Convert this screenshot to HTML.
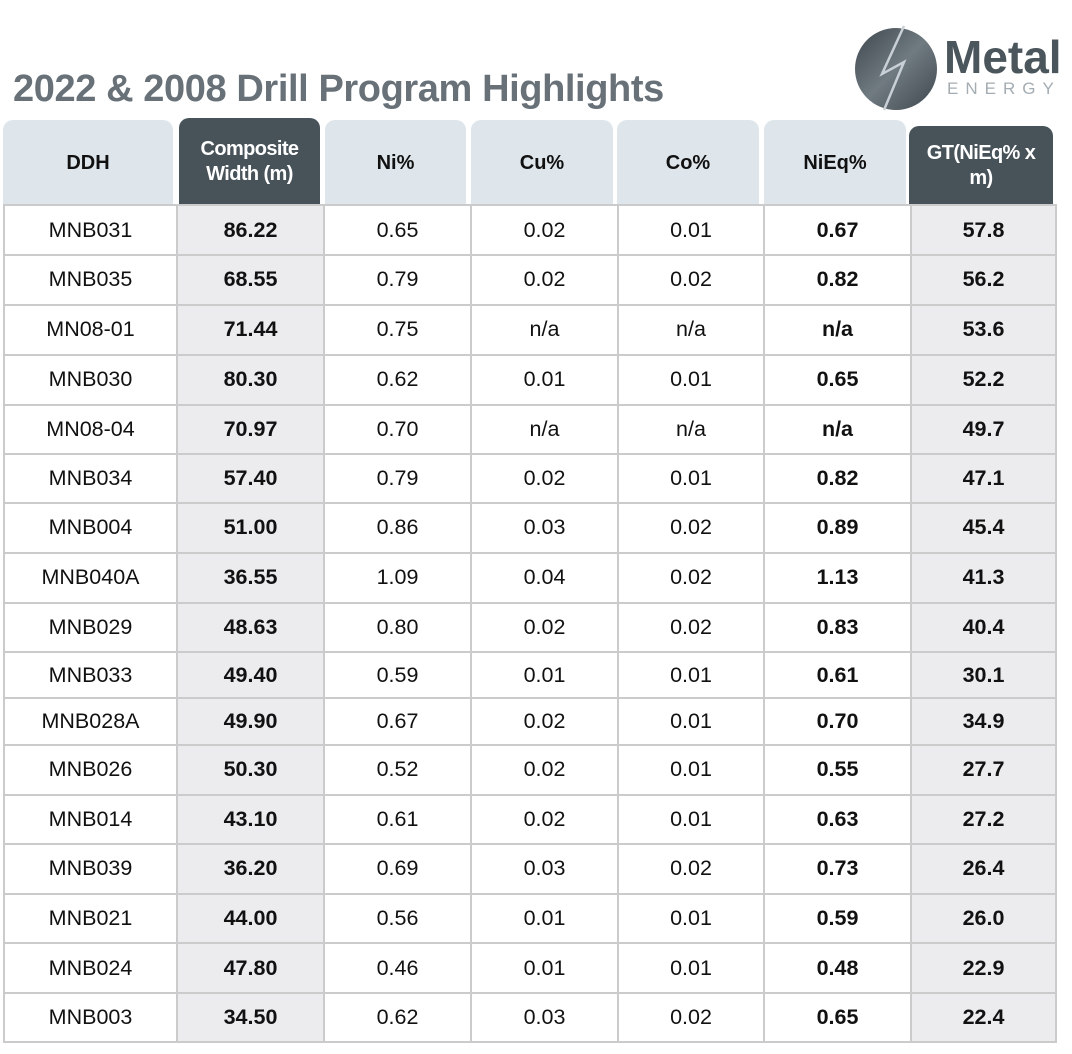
<!DOCTYPE html><html><head><style>
body{margin:0;width:1072px;height:1054px;background:#fff;position:relative;font-family:"Liberation Sans",Arial,sans-serif;overflow:hidden}
.title{position:absolute;left:13px;top:68px;font-size:38px;font-weight:bold;color:#687178;letter-spacing:-0.4px;white-space:nowrap}
.h{position:absolute;display:flex;align-items:center;justify-content:center;text-align:center;font-weight:bold;font-size:20px;border-radius:10px 10px 0 0;line-height:25px}
.l{background:#dee6eb;color:#111;top:120px;height:86px}
.d{background:#475259;color:#fff;font-size:20px;letter-spacing:-0.6px}
table{position:absolute;left:3px;top:204px;border-collapse:collapse;font-size:21.5px;table-layout:fixed}
td{border:2px solid #cbcbcb;text-align:center;padding:0;color:#111}
td:nth-child(2),td:nth-child(6),td:nth-child(7){font-weight:bold}
td:nth-child(2),td:nth-child(7){background:#ececee}
</style></head><body>
<div class="title">2022 &amp; 2008 Drill Program Highlights</div>
<svg style="position:absolute;left:854px;top:24px" width="218" height="90">
<defs><linearGradient id="g" x1="0" y1="0" x2="1" y2="1"><stop offset="0" stop-color="#3e474e"/><stop offset="0.5" stop-color="#707a81"/><stop offset="1" stop-color="#3e474e"/></linearGradient></defs>
<circle cx="42" cy="45" r="41" fill="url(#g)"/>
<polyline points="50,2 28,50 50,38 30,86" fill="none" stroke="#c9d0d5" stroke-width="2.5"/>
<text x="90" y="49" font-family="Liberation Sans,sans-serif" font-weight="bold" font-size="46" fill="#4a555c">Metal</text>
<text x="93" y="70" font-family="Liberation Sans,sans-serif" font-size="17" letter-spacing="7" fill="#a4adb3">ENERGY</text>
</svg>
<div class="h l" style="left:3px;width:170px">DDH</div>
<div class="h d" style="left:179px;width:141px;top:118px;height:88px">Composite<br>Width (m)</div>
<div class="h l" style="left:325px;width:141px">Ni%</div>
<div class="h l" style="left:471px;width:142px">Cu%</div>
<div class="h l" style="left:617px;width:142px">Co%</div>
<div class="h l" style="left:764px;width:142px">NiEq%</div>
<div class="h d" style="left:909px;width:144px;top:126px;height:80px">GT(NiEq% x<br>m)</div>
<table>
<colgroup><col style="width:173px"><col style="width:147px"><col style="width:147px"><col style="width:147px"><col style="width:146px"><col style="width:147px"><col style="width:145px"></colgroup>
<tr style="height:50px"><td>MNB031</td><td>86.22</td><td>0.65</td><td>0.02</td><td>0.01</td><td>0.67</td><td>57.8</td></tr>
<tr style="height:49.5px"><td>MNB035</td><td>68.55</td><td>0.79</td><td>0.02</td><td>0.02</td><td>0.82</td><td>56.2</td></tr>
<tr style="height:50px"><td>MN08-01</td><td>71.44</td><td>0.75</td><td>n/a</td><td>n/a</td><td>n/a</td><td>53.6</td></tr>
<tr style="height:50px"><td>MNB030</td><td>80.30</td><td>0.62</td><td>0.01</td><td>0.01</td><td>0.65</td><td>52.2</td></tr>
<tr style="height:49.5px"><td>MN08-04</td><td>70.97</td><td>0.70</td><td>n/a</td><td>n/a</td><td>n/a</td><td>49.7</td></tr>
<tr style="height:49px"><td>MNB034</td><td>57.40</td><td>0.79</td><td>0.02</td><td>0.01</td><td>0.82</td><td>47.1</td></tr>
<tr style="height:49.5px"><td>MNB004</td><td>51.00</td><td>0.86</td><td>0.03</td><td>0.02</td><td>0.89</td><td>45.4</td></tr>
<tr style="height:50px"><td>MNB040A</td><td>36.55</td><td>1.09</td><td>0.04</td><td>0.02</td><td>1.13</td><td>41.3</td></tr>
<tr style="height:49.5px"><td>MNB029</td><td>48.63</td><td>0.80</td><td>0.02</td><td>0.02</td><td>0.83</td><td>40.4</td></tr>
<tr style="height:46px"><td>MNB033</td><td>49.40</td><td>0.59</td><td>0.01</td><td>0.01</td><td>0.61</td><td>30.1</td></tr>
<tr style="height:47px"><td>MNB028A</td><td>49.90</td><td>0.67</td><td>0.02</td><td>0.01</td><td>0.70</td><td>34.9</td></tr>
<tr style="height:49.5px"><td>MNB026</td><td>50.30</td><td>0.52</td><td>0.02</td><td>0.01</td><td>0.55</td><td>27.7</td></tr>
<tr style="height:49.5px"><td>MNB014</td><td>43.10</td><td>0.61</td><td>0.02</td><td>0.01</td><td>0.63</td><td>27.2</td></tr>
<tr style="height:49.5px"><td>MNB039</td><td>36.20</td><td>0.69</td><td>0.03</td><td>0.02</td><td>0.73</td><td>26.4</td></tr>
<tr style="height:49.5px"><td>MNB021</td><td>44.00</td><td>0.56</td><td>0.01</td><td>0.01</td><td>0.59</td><td>26.0</td></tr>
<tr style="height:50px"><td>MNB024</td><td>47.80</td><td>0.46</td><td>0.01</td><td>0.01</td><td>0.48</td><td>22.9</td></tr>
<tr style="height:49px"><td>MNB003</td><td>34.50</td><td>0.62</td><td>0.03</td><td>0.02</td><td>0.65</td><td>22.4</td></tr>
</table>
</body></html>
